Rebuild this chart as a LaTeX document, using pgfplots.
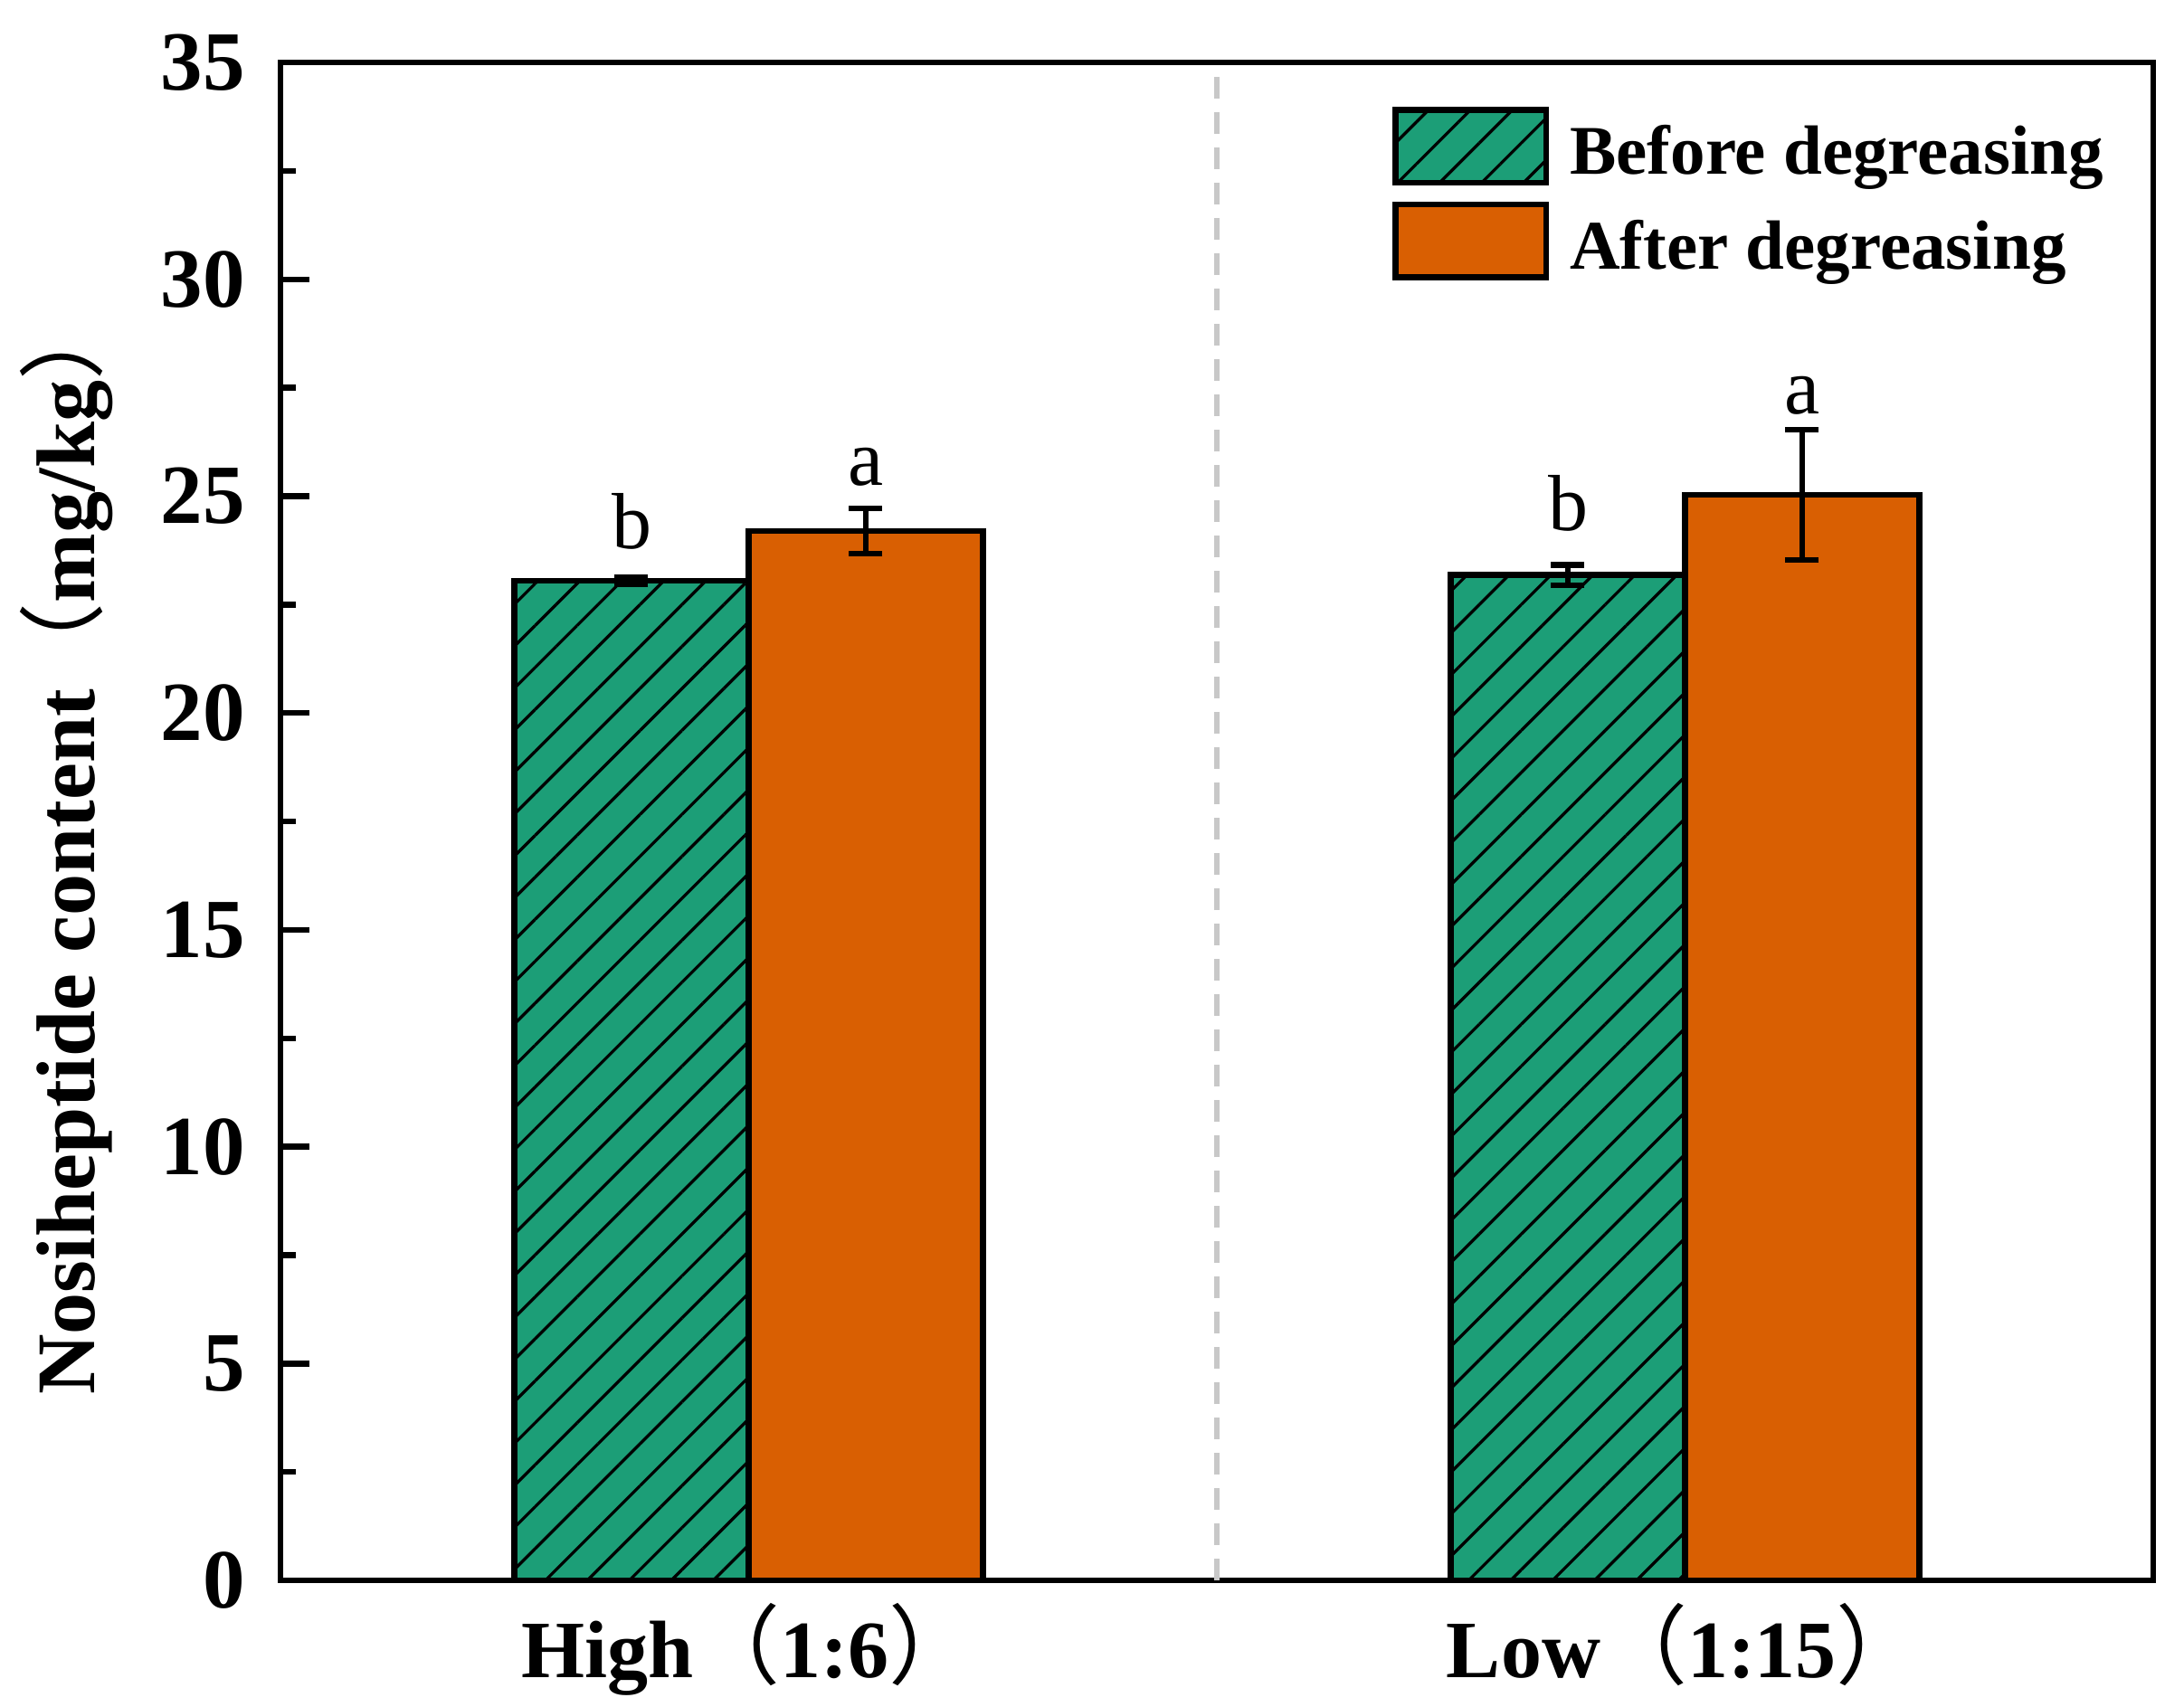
\documentclass[border=0pt]{standalone}
\usepackage{fontspec}
\setmainfont{Liberation Serif}
\newfontfamily\cjk{Noto Sans CJK SC}
\usepackage{pgfplots}
\pgfplotsset{compat=1.18}
\usetikzlibrary{patterns.meta}
\definecolor{cgreen}{HTML}{1C9E77}
\definecolor{corange}{HTML}{D95F02}
\definecolor{cdash}{HTML}{C8C8C8}
\newcommand{\lp}{{\cjk\mdseries\fontsize{9.6}{10}\selectfont （}}
\newcommand{\rp}{{\cjk\mdseries\fontsize{9.6}{10}\selectfont ）}}
\begin{document}
\begin{tikzpicture}
\begin{axis}[
  scale only axis, width=207pt, height=167.8pt,
  xmin=0.5, xmax=2.5, ymin=0, ymax=35,
  ybar=0pt, bar width=25.9pt,
  xtick={1,2},
  xticklabels={High\lp 1:6\rp, Low\lp 1:15\rp},
  major x tick style={draw=none},
  ytick={0,5,10,15,20,25,30,35}, minor y tick num=1,
  tick align=inside, ytick pos=left, xtick pos=bottom,
  major tick length=3.2pt, minor tick length=1.7pt,
  axis line style={line width=0.65pt},
  every tick/.style={line width=0.65pt, black},
  /pgf/number format/assume math mode=true,
  yticklabel style={font=\fontsize{9.3}{10}\selectfont\bfseries, anchor=east, inner sep=0pt, xshift=-3.7pt},
  xticklabel style={font=\fontsize{9}{10}\selectfont\bfseries, anchor=base, inner sep=0pt, yshift=-10.7pt},
  ylabel={Nosiheptide content\lp mg/kg\rp},
  every axis y label/.style={at={(axis description cs:-0.0995,0.485)}, rotate=90, anchor=base, inner sep=0pt, font=\fontsize{9.2}{10}\selectfont\bfseries},
  legend style={draw=none, fill=none, at={(rel axis cs:0.5939,0.9707)}, anchor=north west,
    inner sep=0pt, outer sep=0pt, row sep=1.5pt, column sep=2.3pt,
    font=\fontsize{7.7}{9}\selectfont\bfseries,
    nodes={inner sep=0pt, anchor=base west}},
  legend cell align=left,
  legend image code/.code={\draw[#1] (0pt,-0.93pt) rectangle (16.65pt,7.12pt);},
  error bars/error bar style={line width=0.65pt, black},
  error bars/error mark options={rotate=90, mark size=1.85pt, line width=0.65pt, black},
]
\draw[cdash, line width=0.6pt, dash pattern=on 2.4pt off 1.5pt] (axis cs:1.5,0) -- (axis cs:1.5,34.7);
\addplot[fill=cgreen, draw=black, line width=0.65pt,
  postaction={pattern={Lines[angle=45,distance=3.28pt,line width=0.33pt]}}, pattern color=black,
  error bars/.cd, y dir=both, y explicit]
  coordinates {(1,23.05) +- (0,0.07) (2,23.18) +- (0,0.23)};
\addlegendentry{Before degreasing}
\addplot[fill=corange, draw=black, line width=0.65pt,
  error bars/.cd, y dir=both, y explicit]
  coordinates {(1,24.2) +- (0,0.52) (2,25.03) +- (0,1.5)};
\addlegendentry{After degreasing}
\node[font=\fontsize{8.8}{10}\selectfont, anchor=base, inner sep=0pt] at (axis cs:0.875,23.78) {b};
\node[font=\fontsize{8.8}{10}\selectfont, anchor=base, inner sep=0pt] at (axis cs:1.125,25.24) {a};
\node[font=\fontsize{8.8}{10}\selectfont, anchor=base, inner sep=0pt] at (axis cs:1.875,24.2) {b};
\node[font=\fontsize{8.8}{10}\selectfont, anchor=base, inner sep=0pt] at (axis cs:2.125,26.89) {a};
\end{axis}
\pgfresetboundingbox
\path[use as bounding box] (-31pt,-13.9pt) rectangle (210.4pt,174.7pt);
\end{tikzpicture}
\end{document}
